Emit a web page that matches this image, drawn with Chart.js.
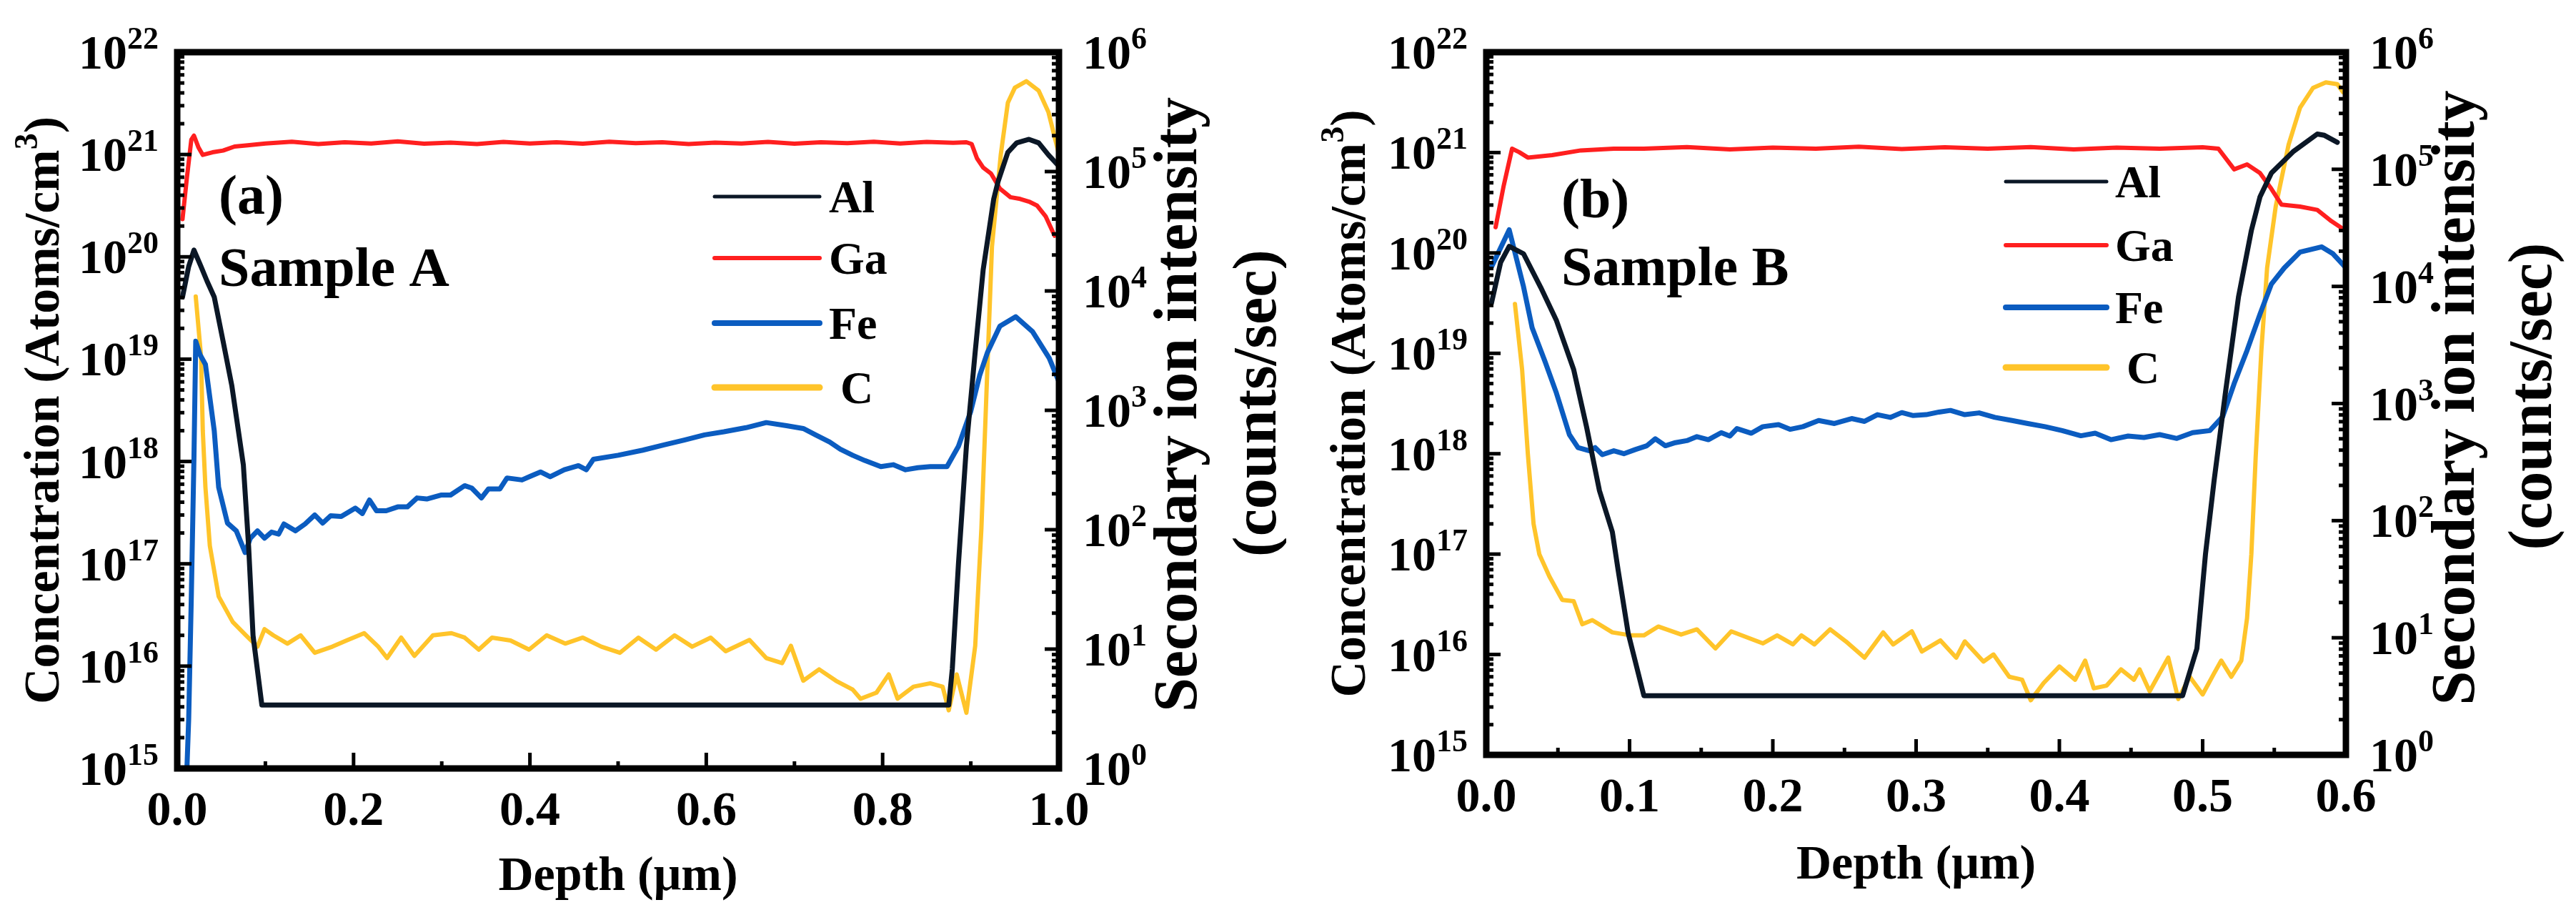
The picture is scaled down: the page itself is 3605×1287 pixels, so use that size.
<!DOCTYPE html>
<html lang="en">
<head>
  <meta charset="UTF-8">
  <title>SIMS depth profiles – Sample A / Sample B</title>
  <script src="https://cdn.jsdelivr.net/npm/chart.js"></script>
  <style>
    html, body {
      margin: 0;
      padding: 0;
      background: #ffffff;
    }
    .wrap {
      position: relative;
      width: 3605px;
      height: 1287px;
      overflow: hidden;
    }
    canvas {
      position: absolute;
      top: 0;
    }
    #chartA { left: 0; }
    #chartB { left: 1800px; }
  </style>
</head>
<body>
  <div class="wrap">
    <canvas id="chartA" width="1800" height="1287"></canvas>
    <canvas id="chartB" width="1805" height="1287"></canvas>
  </div>

  <script>
    // ---- Sample A : Al and Ga in counts/sec (right axis), Fe and C in atoms/cm3 (left axis)
    const depthAlA = [0.006, 0.013, 0.019, 0.027, 0.034, 0.042, 0.052, 0.062, 0.075, 0.081, 0.086, 0.096,
      0.875, 0.879, 0.886, 0.895, 0.905, 0.914, 0.926, 0.931, 0.942, 0.952, 0.966, 0.977, 0.988, 0.998];
    const alA = [8.9e3, 1.6e4, 2.2e4, 1.6e4, 1.2e4, 8.9e3, 3.8e3, 1.6e3, 350, 72, 13, 3.4,
      3.4, 6.8, 52, 500, 3.1e3, 1.5e4, 5.9e4, 8.3e4, 1.45e5, 1.74e5, 1.86e5, 1.74e5, 1.38e5, 1.15e5];

    const depthGaA = [0.006, 0.011, 0.016, 0.019, 0.024, 0.029, 0.040, 0.052, 0.065, 0.080,
      0.10, 0.13, 0.16, 0.19, 0.22, 0.25, 0.28, 0.31, 0.34, 0.37, 0.40, 0.43, 0.46, 0.49, 0.52,
      0.55, 0.58, 0.61, 0.64, 0.67, 0.70, 0.73, 0.76, 0.79, 0.82, 0.85, 0.88, 0.895,
      0.901, 0.907, 0.914, 0.923, 0.933, 0.945, 0.956, 0.966, 0.975, 0.985, 0.995];
    const gaA = [4.0e4, 8.9e4, 1.85e5, 2.0e5, 1.6e5, 1.38e5, 1.45e5, 1.5e5, 1.62e5, 1.66e5,
      1.72e5, 1.78e5, 1.70e5, 1.76e5, 1.72e5, 1.79e5, 1.71e5, 1.75e5, 1.70e5, 1.77e5, 1.72e5, 1.76e5, 1.71e5, 1.78e5, 1.73e5,
      1.76e5, 1.70e5, 1.75e5, 1.72e5, 1.77e5, 1.71e5, 1.76e5, 1.73e5, 1.78e5, 1.72e5, 1.77e5, 1.74e5, 1.76e5,
      1.70e5, 1.29e5, 1.08e5, 9.6e4, 7.2e4, 6.1e4, 5.9e4, 5.6e4, 5.2e4, 4.2e4, 2.9e4];

    const depthFeA = [0.011, 0.013, 0.016, 0.019, 0.021, 0.026, 0.032, 0.042, 0.047, 0.057,
      0.067, 0.077, 0.083, 0.091, 0.099, 0.107, 0.115, 0.121, 0.134, 0.145, 0.156, 0.165, 0.174, 0.186,
      0.202, 0.210, 0.218, 0.226, 0.237, 0.250, 0.261, 0.272, 0.283, 0.299, 0.310, 0.326, 0.334, 0.345,
      0.353, 0.366, 0.374, 0.391, 0.401, 0.412, 0.423, 0.439, 0.455, 0.464, 0.472,
      0.500, 0.528, 0.552, 0.575, 0.598, 0.620, 0.645, 0.668, 0.691, 0.710, 0.724, 0.740, 0.752, 0.766,
      0.780, 0.798, 0.812, 0.826, 0.840, 0.854, 0.873,
      0.886, 0.900, 0.910, 0.919, 0.933, 0.951, 0.970, 0.989, 1.0];
    const feA = [1.0e15, 3.0e15, 4.8e16, 1.1e18, 1.5e19, 1.1e19, 8.9e18, 2.0e18, 5.6e17, 2.5e17,
      2.1e17, 1.29e17, 1.78e17, 2.1e17, 1.78e17, 2.04e17, 1.95e17, 2.45e17, 2.1e17, 2.45e17, 3.0e17, 2.5e17, 2.95e17, 2.9e17,
      3.5e17, 3.1e17, 4.2e17, 3.3e17, 3.3e17, 3.6e17, 3.6e17, 4.4e17, 4.3e17, 4.7e17, 4.7e17, 5.8e17, 5.5e17, 4.4e17,
      5.4e17, 5.4e17, 6.9e17, 6.6e17, 7.2e17, 7.9e17, 7.1e17, 8.3e17, 9.1e17, 8.3e17, 1.05e18,
      1.15e18, 1.29e18, 1.45e18, 1.62e18, 1.82e18, 1.95e18, 2.14e18, 2.4e18, 2.24e18, 2.1e18, 1.82e18, 1.55e18, 1.32e18, 1.15e18,
      1.02e18, 8.9e17, 9.3e17, 8.3e17, 8.7e17, 8.9e17, 8.9e17,
      1.41e18, 3.1e18, 6.9e18, 1.17e19, 2.1e19, 2.6e19, 1.86e19, 1.02e19, 6.0e18];

    const depthCA = [0.021, 0.027, 0.029, 0.032, 0.037, 0.047, 0.063, 0.078, 0.091, 0.099, 0.109, 0.125, 0.140,
      0.156, 0.176, 0.192, 0.212, 0.228, 0.238, 0.254, 0.269, 0.290, 0.311, 0.326, 0.342, 0.357, 0.378, 0.399,
      0.419, 0.440, 0.460, 0.481, 0.502, 0.523, 0.543, 0.564, 0.584, 0.605, 0.622, 0.649, 0.668, 0.686, 0.696,
      0.710, 0.728, 0.747, 0.766, 0.775, 0.793, 0.807, 0.817, 0.835, 0.854, 0.868, 0.875, 0.884, 0.895,
      0.905, 0.912, 0.919, 0.924, 0.934, 0.942, 0.950, 0.963, 0.977, 0.988, 1.0];
    const cA = [4.1e19, 1.07e19, 2.0e18, 5.6e17, 1.5e17, 4.8e16, 2.7e16, 2.0e16, 1.55e16, 2.3e16, 2.0e16, 1.66e16, 2.0e16,
      1.35e16, 1.55e16, 1.78e16, 2.1e16, 1.55e16, 1.2e16, 1.9e16, 1.26e16, 2.0e16, 2.1e16, 1.9e16, 1.45e16, 1.9e16, 1.78e16, 1.45e16,
      2.0e16, 1.66e16, 1.9e16, 1.55e16, 1.35e16, 1.9e16, 1.45e16, 2.0e16, 1.55e16, 1.9e16, 1.4e16, 1.8e16, 1.2e16, 1.07e16, 1.58e16,
      7.2e15, 9.3e15, 7.2e15, 5.9e15, 4.8e15, 5.5e15, 8.3e15, 4.8e15, 6.3e15, 6.8e15, 6.3e15, 3.7e15, 8.3e15, 3.5e15,
      1.58e16, 2.2e17, 9.1e18, 1.26e20, 1.0e21, 3.2e21, 4.5e21, 5.2e21, 4.2e21, 2.6e21, 1.0e21];

    // ---- Sample B
    const depthAlB = [0.0035, 0.010, 0.016, 0.026, 0.038, 0.049, 0.061, 0.070, 0.079, 0.088, 0.092, 0.099, 0.110,
      0.486, 0.496, 0.502, 0.508, 0.516, 0.525, 0.534, 0.540, 0.548, 0.563, 0.580, 0.585, 0.594];
    const alB = [7.1e3, 1.6e4, 2.2e4, 1.9e4, 9.8e3, 5.1e3, 1.95e3, 630, 180, 80, 38, 11, 3.2,
      3.2, 8.1, 52, 220, 1.26e3, 8.1e3, 3.0e4, 5.8e4, 9.3e4, 1.41e5, 2.0e5, 1.95e5, 1.7e5];

    const depthGaB = [0.0065, 0.012, 0.018, 0.023, 0.029, 0.046, 0.066, 0.089,
      0.11, 0.14, 0.17, 0.20, 0.23, 0.26, 0.29, 0.32, 0.35, 0.38, 0.41, 0.44, 0.47, 0.50, 0.511,
      0.522, 0.531, 0.540, 0.548, 0.555, 0.568, 0.580, 0.590, 0.598];
    const gaB = [3.2e4, 7.1e4, 1.5e5, 1.4e5, 1.26e5, 1.32e5, 1.45e5, 1.5e5,
      1.50e5, 1.55e5, 1.48e5, 1.53e5, 1.50e5, 1.56e5, 1.49e5, 1.54e5, 1.50e5, 1.55e5, 1.48e5, 1.53e5, 1.50e5, 1.54e5, 1.50e5,
      1.0e5, 1.1e5, 9.3e4, 6.8e4, 5.0e4, 4.8e4, 4.5e4, 3.6e4, 3.1e4];

    const depthFeB = [0.0035, 0.016, 0.026, 0.032, 0.041, 0.049, 0.058, 0.064, 0.072, 0.076, 0.081, 0.089, 0.096,
      0.104, 0.112, 0.118, 0.125, 0.132, 0.140, 0.147, 0.155, 0.164, 0.170, 0.175, 0.185, 0.193, 0.204, 0.212,
      0.221, 0.232, 0.243, 0.255, 0.264, 0.273, 0.282, 0.290, 0.298, 0.307, 0.316, 0.324, 0.334, 0.344, 0.355,
      0.367, 0.378, 0.390, 0.402, 0.415, 0.425, 0.436, 0.448, 0.459, 0.470, 0.482, 0.493, 0.505,
      0.514, 0.522, 0.531, 0.540, 0.548, 0.557, 0.568, 0.583, 0.591, 0.600];
    const feB = [7.2e19, 1.7e20, 4.6e19, 1.8e19, 8.3e18, 4.0e18, 1.55e18, 1.15e18, 1.07e18, 1.15e18, 9.8e17, 1.07e18, 1.0e18,
      1.1e18, 1.2e18, 1.41e18, 1.2e18, 1.29e18, 1.35e18, 1.48e18, 1.38e18, 1.62e18, 1.5e18, 1.78e18, 1.6e18, 1.86e18, 1.95e18, 1.75e18,
      1.86e18, 2.14e18, 2.0e18, 2.24e18, 2.1e18, 2.45e18, 2.3e18, 2.57e18, 2.4e18, 2.45e18, 2.6e18, 2.7e18, 2.45e18, 2.55e18, 2.3e18,
      2.14e18, 2.0e18, 1.86e18, 1.7e18, 1.51e18, 1.6e18, 1.38e18, 1.5e18, 1.45e18, 1.55e18, 1.42e18, 1.62e18, 1.7e18,
      2.34e18, 5.0e18, 1.07e19, 2.45e19, 4.9e19, 7.1e19, 1.02e20, 1.15e20, 9.8e19, 7.1e19];

    const depthCB = [0.020, 0.025, 0.029, 0.033, 0.037, 0.044, 0.053, 0.061, 0.067, 0.074, 0.088, 0.101, 0.110,
      0.120, 0.136, 0.147, 0.160, 0.171, 0.193, 0.203, 0.214, 0.220, 0.229, 0.240, 0.251, 0.264, 0.277, 0.284,
      0.297, 0.304, 0.317, 0.328, 0.334, 0.347, 0.354, 0.365, 0.374, 0.380, 0.389, 0.400, 0.411, 0.418, 0.424,
      0.433, 0.443, 0.452, 0.456, 0.463, 0.476, 0.483, 0.491, 0.500, 0.508, 0.513, 0.520, 0.527,
      0.531, 0.534, 0.537, 0.541, 0.545, 0.551, 0.560, 0.568, 0.577, 0.586, 0.594, 0.598];
    const cB = [3.1e19, 6.9e18, 1.0e18, 2.0e17, 1.0e17, 6.0e16, 3.5e16, 3.4e16, 2.0e16, 2.2e16, 1.66e16, 1.55e16, 1.55e16,
      1.9e16, 1.58e16, 1.78e16, 1.15e16, 1.7e16, 1.29e16, 1.55e16, 1.26e16, 1.55e16, 1.26e16, 1.78e16, 1.35e16, 9.3e15, 1.66e16, 1.26e16,
      1.7e16, 1.07e16, 1.38e16, 9.3e15, 1.35e16, 8.5e15, 1.0e16, 6.0e15, 5.6e15, 3.5e15, 5.2e15, 7.6e15, 5.6e15, 8.7e15, 4.6e15,
      4.9e15, 7.1e15, 5.6e15, 7.1e15, 4.3e15, 9.3e15, 3.6e15, 6.0e15, 4.0e15, 6.5e15, 8.7e15, 6.0e15, 8.7e15,
      2.3e16, 1.0e17, 9.1e17, 1.07e19, 7.1e19, 2.9e20, 1.2e21, 2.8e21, 4.4e21, 5.0e21, 4.8e21, 4.0e21];

    // ---- axes
    const xTicksA = [0, 0.2, 0.4, 0.6, 0.8, 1.0];
    const xMinorA = [0.1, 0.3, 0.5, 0.7, 0.9];
    const xLabelsA = ['0.0', '0.2', '0.4', '0.6', '0.8', '1.0'];
    const xTicksB = [0, 0.1, 0.2, 0.3, 0.4, 0.5, 0.6];
    const xMinorB = [0.05, 0.15, 0.25, 0.35, 0.45, 0.55];
    const xLabelsB = ['0.0', '0.1', '0.2', '0.3', '0.4', '0.5', '0.6'];
    const concExps = [15, 16, 17, 18, 19, 20, 21, 22];
    const countExps = [0, 1, 2, 3, 4, 5, 6];

    const seriesNames = ['Al', 'Ga', 'Fe', 'C'];
    const seriesColors = ['#0b1726', '#ff1f1f', '#0b5cc0', '#ffc42a'];
    const lineWidths = [7, 6, 7, 6];
    const legendWidths = [5, 6, 8, 9];

    const FONT = '"Liberation Serif", "Times New Roman", serif';

    function txt(ctx, s, x, y, size, align) {
      ctx.font = 'bold ' + size + 'px ' + FONT;
      ctx.textAlign = align || 'left';
      ctx.textBaseline = 'alphabetic';
      ctx.fillText(s, x, y);
    }

    function pts(xs, ys) {
      return xs.map((d, i) => ({ x: d, y: ys[i] }));
    }

    // "10" with a raised exponent, anchored at its left or right edge
    function powLabel(ctx, exp, x, y, align) {
      ctx.font = 'bold 68px ' + FONT;
      const wb = ctx.measureText('10').width;
      ctx.font = 'bold 44px ' + FONT;
      const we = ctx.measureText(String(exp)).width;
      const x0 = align === 'right' ? x - wb - we : x;
      txt(ctx, '10', x0, y + 23, 68);
      txt(ctx, String(exp), x0 + wb, y - 5, 44);
    }

    // rotated text made of runs [text, size, raise]
    function rotated(ctx, runs, cx, cy) {
      ctx.save();
      ctx.translate(cx, cy);
      ctx.rotate(-Math.PI / 2);
      let total = 0;
      runs.forEach(r => { ctx.font = 'bold ' + r[1] + 'px ' + FONT; r.w = ctx.measureText(r[0]).width; total += r.w; });
      let x = -total / 2;
      const base = runs[0][1] * 0.26;
      runs.forEach(r => { txt(ctx, r[0], x, base - r[2], r[1]); x += r.w; });
      ctx.restore();
    }

    function makePanel(canvasId, cfg) {
      const framePlugin = {
        id: 'frame' + canvasId,
        afterDraw(chart) {
          const ctx = chart.ctx;
          const a = chart.chartArea;
          const xs = chart.scales.x, yl = chart.scales.y, yr = chart.scales.y2;
          ctx.save();
          ctx.fillStyle = '#000';
          ctx.strokeStyle = '#000';

          // inward ticks
          ctx.lineWidth = 5;
          ctx.lineCap = 'butt';
          const seg = (x1, y1, x2, y2) => { ctx.beginPath(); ctx.moveTo(x1, y1); ctx.lineTo(x2, y2); ctx.stroke(); };
          cfg.xTicks.forEach(v => { const px = xs.getPixelForValue(v); seg(px, a.bottom, px, a.bottom - 22); });
          cfg.xMinor.forEach(v => { const px = xs.getPixelForValue(v); seg(px, a.bottom, px, a.bottom - 10); });
          concExps.forEach((e, i) => {
            const py = yl.getPixelForValue(Math.pow(10, e));
            seg(a.left, py, a.left + 20, py);
            if (i < concExps.length - 1) {
              for (let k = 2; k < 10; k++) {
                const pm = yl.getPixelForValue(k * Math.pow(10, e));
                seg(a.left, pm, a.left + 10, pm);
              }
            }
          });
          countExps.forEach((e, i) => {
            const py = yr.getPixelForValue(Math.pow(10, e));
            seg(a.right, py, a.right - 20, py);
            if (i < countExps.length - 1) {
              for (let k = 2; k < 10; k++) {
                const pm = yr.getPixelForValue(k * Math.pow(10, e));
                seg(a.right, pm, a.right - 10, pm);
              }
            }
          });

          // frame
          ctx.lineWidth = 9;
          ctx.strokeRect(a.left, a.top, a.right - a.left, a.bottom - a.top);

          // tick labels
          cfg.xTicks.forEach((v, i) => {
            txt(ctx, cfg.xLabels[i], xs.getPixelForValue(v), a.bottom + 79, 68, 'center');
          });
          concExps.forEach(e => powLabel(ctx, e, a.left - 26, yl.getPixelForValue(Math.pow(10, e)), 'right'));
          countExps.forEach(e => powLabel(ctx, e, a.right + 33, yr.getPixelForValue(Math.pow(10, e)), 'left'));

          // axis titles
          txt(ctx, 'Depth (\u03bcm)', (a.left + a.right) / 2, a.bottom + cfg.depthDy, 68, 'center');
          rotated(ctx, [['Concentration (Atoms/cm', 70, 0], ['3', 46, 30], [')', 70, 0]],
            a.left + cfg.leftTitleDx, (a.top + a.bottom) / 2);
          rotated(ctx, [['Secondary ion intensity', 86, 0]], a.right + cfg.rightTitleDx, (a.top + a.bottom) / 2 - 8);
          rotated(ctx, [['(counts/sec)', 86, 0]], a.right + cfg.rightTitle2Dx, (a.top + a.bottom) / 2 - 10);

          // panel annotations
          txt(ctx, cfg.tag, cfg.tagX, cfg.tagY, 78);
          txt(ctx, cfg.sample, cfg.tagX, cfg.sampleY, 78);

          // legend
          chart.data.datasets.forEach((ds, i) => {
            const ly = cfg.legendY[i];
            ctx.strokeStyle = ds.borderColor;
            ctx.lineWidth = legendWidths[i];
            ctx.lineCap = 'round';
            seg(cfg.legendX0, ly, cfg.legendX1, ly);
            ctx.fillStyle = '#000';
            txt(ctx, (ds.label === 'C' ? ' ' : '') + ds.label, cfg.legendTextX, ly + 22, 64);
          });
          ctx.restore();
        }
      };

      const axisIds = ['y2', 'y2', 'y', 'y'];
      const datasets = cfg.series.map((s, i) => ({
        label: seriesNames[i],
        data: pts(s[0], s[1]),
        yAxisID: axisIds[i],
        borderColor: seriesColors[i],
        borderWidth: lineWidths[i],
        pointRadius: 0,
        tension: 0,
        fill: false,
        borderJoinStyle: 'round',
        borderCapStyle: 'round'
      }));

      return new Chart(document.getElementById(canvasId), {
        type: 'line',
        data: { datasets },
        options: {
          responsive: false,
          animation: false,
          devicePixelRatio: 1,
          layout: { padding: cfg.padding },
          plugins: { legend: { display: false }, tooltip: { enabled: false } },
          scales: {
            x: { type: 'linear', min: 0, max: cfg.xMax, display: false },
            y: { type: 'logarithmic', min: 1e15, max: 1e22, display: false },
            y2: { type: 'logarithmic', min: 1, max: 1e6, display: false }
          }
        },
        plugins: [framePlugin]
      });
    }

    makePanel('chartA', {
      xMax: 1.0,
      padding: { left: 248, right: 318, top: 73, bottom: 212 },
      series: [[depthAlA, alA], [depthGaA, gaA], [depthFeA, feA], [depthCA, cA]],
      xTicks: xTicksA, xMinor: xMinorA, xLabels: xLabelsA,
      depthDy: 170, leftTitleDx: -184, rightTitleDx: 170, rightTitle2Dx: 281,
      tag: '(a)', sample: 'Sample A', tagX: 306, tagY: 299, sampleY: 400,
      legendX0: 1000, legendX1: 1147, legendTextX: 1160, legendY: [275, 361, 452, 542]
    });

    makePanel('chartB', {
      xMax: 0.6,
      padding: { left: 280, right: 322, top: 73, bottom: 231 },
      series: [[depthAlB, alB], [depthGaB, gaB], [depthFeB, feB], [depthCB, cB]],
      xTicks: xTicksB, xMinor: xMinorB, xLabels: xLabelsB,
      depthDy: 173, leftTitleDx: -188, rightTitleDx: 157, rightTitle2Dx: 265,
      tag: '(b)', sample: 'Sample B', tagX: 385, tagY: 304, sampleY: 399,
      legendX0: 1007, legendX1: 1148, legendTextX: 1160, legendY: [254, 343, 430, 514]
    });
  </script>
</body>
</html>
